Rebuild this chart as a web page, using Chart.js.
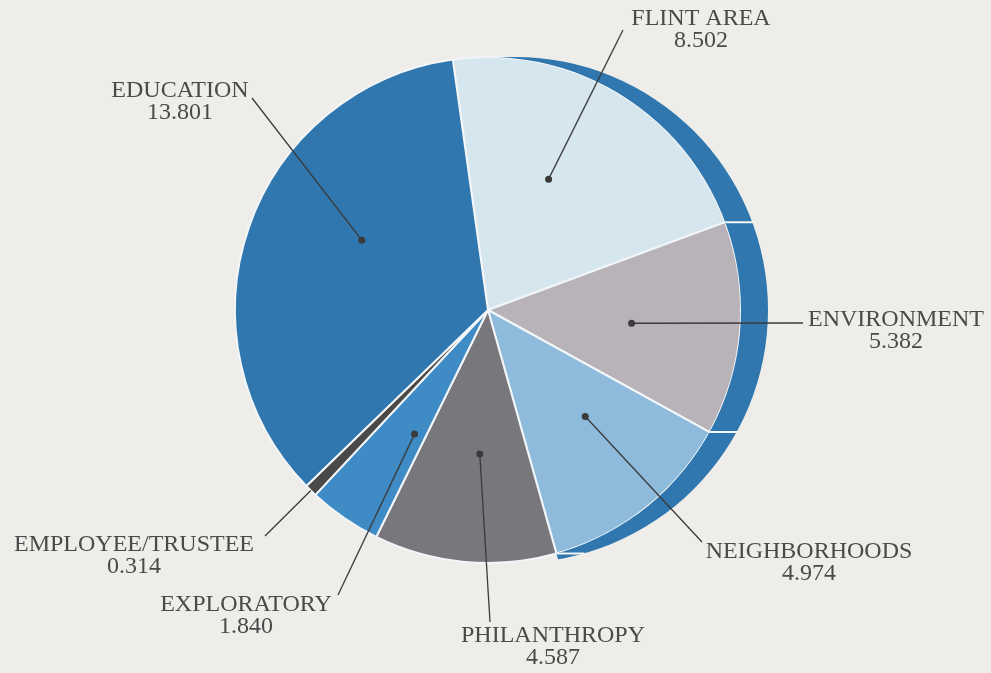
<!DOCTYPE html>
<html>
<head>
<meta charset="utf-8">
<script src="https://cdn.jsdelivr.net/npm/chart.js@4/dist/chart.umd.min.js"></script>
<style>
  html, body { margin: 0; padding: 0; background: #eeede9; }
  #wrap { width: 991px; height: 673px; position: relative; }
</style>
</head>
<body>
<div id="wrap"><canvas id="c" width="991" height="673"></canvas></div>
<script>
// ---- data (clockwise from top) ----
const categories = ['FLINT AREA', 'ENVIRONMENT', 'NEIGHBORHOODS', 'PHILANTHROPY', 'EXPLORATORY', 'EMPLOYEE/TRUSTEE', 'EDUCATION'];
const values = [8.502, 5.382, 4.974, 4.587, 1.840, 0.314, 13.801];
const valueLabels = ['8.502', '5.382', '4.974', '4.587', '1.840', '0.314', '13.801'];

// ---- styling ----
const sliceColors = ['#d6e6ee', '#b8b3b9', '#8ebbdb', '#78777c', '#3f8bc5', '#4b4947', '#2f77ae'];
const rimColor = '#2f77ae';
const rimShiftX = 27;
// label layout: text centre, leader end point, dot angle nudge (deg)
const labelLayout = [
  { tx: 701, ty: 19,  ex: 623, ey: 30,  nudge: -6,  dot: true },
  { tx: 896, ty: 320, ex: 803, ey: 323, nudge: 1,   dot: true },
  { tx: 809, ty: 552, ex: 702, ey: 542, nudge: -4,  dot: true },
  { tx: 553, ty: 636, ex: 490, ey: 622, nudge: -2,  dot: true },
  { tx: 246, ty: 605, ex: 338, ey: 595, nudge: -4,  dot: true },
  { tx: 134, ty: 545, ex: 265, ey: 536, nudge: 0,   dot: false },
  { tx: 180, ty: 91,  ex: 252, ey: 98,  nudge: 10,  dot: true }
];

const rimPlugin = {
  id: 'rim',
  afterDatasetsDraw(chart) {
    const ctx = chart.ctx;
    const meta = chart.getDatasetMeta(0);
    const a0 = meta.data[0];
    const cx = a0.x, cy = a0.y, R = a0.outerRadius;
    ctx.save();
    // crescent: shifted disc outside the pie, only behind the first three slices
    ctx.beginPath();
    ctx.rect(0, 0, chart.width, chart.height);
    ctx.arc(cx, cy, R, 0, Math.PI * 2, true);
    ctx.clip('evenodd');
    ctx.beginPath();
    ctx.moveTo(cx, cy);
    ctx.arc(cx, cy, R * 2, meta.data[0].startAngle, meta.data[2].endAngle);
    ctx.closePath();
    ctx.clip();
    ctx.beginPath();
    ctx.arc(cx + rimShiftX, cy, R, 0, Math.PI * 2);
    ctx.fillStyle = rimColor;
    ctx.fill();
    // separators across the rim
    ctx.strokeStyle = '#f3f6f8';
    ctx.lineWidth = 2;
    for (let i = 0; i < 3; i++) {
      const ang = meta.data[i].endAngle;
      const px = cx + R * Math.cos(ang), py = cy + R * Math.sin(ang);
      const dy = py - cy;
      const qx = cx + rimShiftX + Math.sqrt(Math.max(R * R - dy * dy, 0));
      ctx.beginPath();
      ctx.moveTo(px - 2, py);
      ctx.lineTo(qx + 1, py);
      ctx.stroke();
    }
    ctx.restore();

    // leaders and labels
    ctx.save();
    ctx.strokeStyle = '#3a3a3a';
    ctx.fillStyle = '#3a3a3a';
    ctx.lineWidth = 1.3;
    meta.data.forEach((arc, i) => {
      const L = labelLayout[i];
      const mid = (arc.startAngle + arc.endAngle) / 2 + L.nudge * Math.PI / 180;
      const r = L.dot ? R * 0.57 : R;
      const dx = cx + r * Math.cos(mid), dy = cy + r * Math.sin(mid);
      ctx.beginPath();
      ctx.moveTo(dx, dy);
      ctx.lineTo(L.ex, L.ey);
      ctx.stroke();
      if (L.dot) {
        ctx.beginPath();
        ctx.arc(dx, dy, 3.5, 0, Math.PI * 2);
        ctx.fill();
      }
    });
    ctx.fillStyle = '#4a4a4a';
    ctx.font = '24px "Liberation Serif", "DejaVu Serif", serif';
    ctx.textAlign = 'center';
    ctx.textBaseline = 'middle';
    meta.data.forEach((arc, i) => {
      const L = labelLayout[i];
      ctx.fillText(chart.data.labels[i], L.tx, L.ty);
      ctx.fillText(valueLabels[i], L.tx, L.ty + 22);
    });
    ctx.restore();
  }
};

new Chart(document.getElementById('c'), {
  type: 'pie',
  data: {
    labels: categories,
    datasets: [{
      data: values,
      backgroundColor: sliceColors,
      borderColor: '#f3f6f8',
      borderWidth: 2
    }]
  },
  options: {
    responsive: false,
    animation: false,
    rotation: -8,
    layout: { padding: { left: 234, right: 249, top: 56, bottom: 109 } },
    plugins: { legend: { display: false }, tooltip: { enabled: false } }
  },
  plugins: [rimPlugin]
});
</script>
</body>
</html>
